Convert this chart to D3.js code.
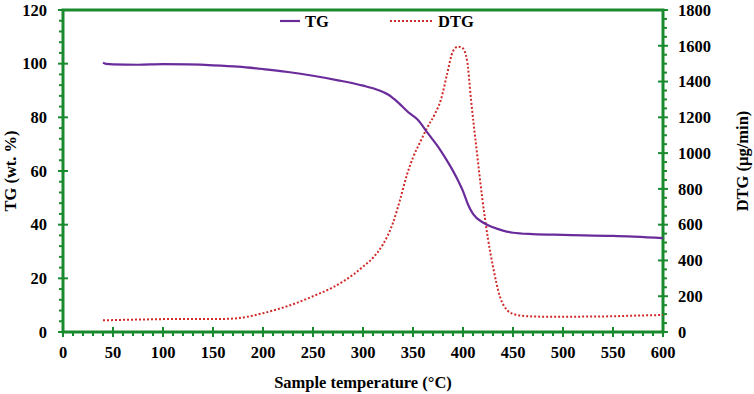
<!DOCTYPE html>
<html>
<head>
<meta charset="utf-8">
<script src="https://cdn.jsdelivr.net/npm/d3@7"></script>
<style>
  body { margin: 0; background: #fff; }
  text { font-family: "Liberation Serif", "Times New Roman", serif; font-weight: bold; }
</style>
</head>
<body>
<div id="chart"></div>
<script>
// TG curve (wt. %) vs temperature
const tgTemp = [40, 43, 50, 75, 100, 125, 150, 175, 200, 225, 250, 275, 300, 315, 325, 335, 345, 355, 365, 377, 387, 395, 400, 405, 410, 420, 430, 440, 450, 470, 500, 550, 600];
const tgValue = [100.4, 99.9, 99.7, 99.6, 99.8, 99.7, 99.4, 98.9, 98.0, 96.9, 95.5, 93.8, 91.8, 90.2, 88.5, 85.6, 82, 79, 74, 68, 62, 56.5, 52.5, 47.5, 44, 40.8, 39, 37.8, 37, 36.5, 36.2, 35.8, 35.0];

// DTG curve (µg/min) vs temperature
const dtgTemp = [40, 60, 80, 100, 120, 140, 160, 172, 185, 200, 215, 230, 250, 270, 290, 300, 310, 320, 330, 337, 344, 350, 357, 364, 372, 378, 384, 390, 395, 399, 404, 408, 414, 419, 425, 430, 437, 444, 452, 465, 490, 520, 550, 575, 600];
const dtgValue = [65, 68, 70, 72, 73, 72, 73, 76, 86, 105, 128, 155, 200, 250, 320, 365, 415, 490, 610, 738, 880, 975, 1060, 1140, 1220, 1300, 1440, 1570, 1595, 1590, 1520, 1300, 1000, 760, 520, 365, 197, 123, 98, 88, 85, 86, 88, 92, 95];

const xTicks = [0, 50, 100, 150, 200, 250, 300, 350, 400, 450, 500, 550, 600];
const tgTicks = [0, 20, 40, 60, 80, 100, 120];
const dtgTicks = [0, 200, 400, 600, 800, 1000, 1200, 1400, 1600, 1800];

const W = 754, H = 394;
const margin = { top: 10, right: 91, bottom: 62, left: 63 };
const width = W - margin.left - margin.right,
      height = H - margin.top - margin.bottom;

const green = "#1a8a2e";
const purple = "#6a2c9a";
const red = "#d02a2a";
const fs = "16.5px";

const svg = d3.select("#chart").append("svg")
    .attr("width", W).attr("height", H);
const g = svg.append("g").attr("transform", `translate(${margin.left},${margin.top})`);

const x = d3.scaleLinear().domain([0, 600]).range([0, width]);
const yL = d3.scaleLinear().domain([0, 120]).range([height, 0]);
const yR = d3.scaleLinear().domain([0, 1800]).range([height, 0]);

// minor ticks
const minorX = d3.range(0, 601, 10).filter(v => v % 50 !== 0);
const minorL = d3.range(0, 121, 4).filter(v => v % 20 !== 0);
const minorR = d3.range(0, 1801, 50).filter(v => v % 200 !== 0);

const ticks = g.append("g").attr("stroke", green).attr("stroke-width", 2);
ticks.selectAll(".mx").data(minorX).enter().append("line")
    .attr("x1", d => x(d)).attr("x2", d => x(d)).attr("y1", height).attr("y2", height + 4);
ticks.selectAll(".Mx").data(xTicks).enter().append("line")
    .attr("x1", d => x(d)).attr("x2", d => x(d)).attr("y1", height - 5).attr("y2", height + 5);
ticks.selectAll(".ml").data(minorL).enter().append("line")
    .attr("y1", d => yL(d)).attr("y2", d => yL(d)).attr("x1", -4).attr("x2", 0);
ticks.selectAll(".Ml").data(tgTicks).enter().append("line")
    .attr("y1", d => yL(d)).attr("y2", d => yL(d)).attr("x1", -5).attr("x2", 5);
ticks.selectAll(".mr").data(minorR).enter().append("line")
    .attr("y1", d => yR(d)).attr("y2", d => yR(d)).attr("x1", width).attr("x2", width + 4);
ticks.selectAll(".Mr").data(dtgTicks).enter().append("line")
    .attr("y1", d => yR(d)).attr("y2", d => yR(d)).attr("x1", width - 5).attr("x2", width + 5);

// frame
g.append("rect").attr("width", width).attr("height", height)
    .attr("fill", "none").attr("stroke", green).attr("stroke-width", 3);

// tick labels
g.selectAll(".xl").data(xTicks).enter().append("text")
    .attr("x", d => x(d)).attr("y", height + 26)
    .attr("text-anchor", "middle").style("font-size", fs).text(d => d);
g.selectAll(".ll").data(tgTicks).enter().append("text")
    .attr("x", -16).attr("y", d => yL(d)).attr("dy", "0.35em")
    .attr("text-anchor", "end").style("font-size", fs).text(d => d);
g.selectAll(".rl").data(dtgTicks).enter().append("text")
    .attr("x", width + 15).attr("y", d => yR(d)).attr("dy", "0.35em")
    .attr("text-anchor", "start").style("font-size", fs).text(d => d);

// axis titles
g.append("text").attr("x", width / 2).attr("y", height + 56)
    .attr("text-anchor", "middle").style("font-size", fs).text("Sample temperature (°C)");
g.append("text").attr("transform", `translate(${-47},${height / 2}) rotate(-90)`)
    .attr("text-anchor", "middle").style("font-size", fs).text("TG (wt. %)");
g.append("text").attr("transform", `translate(${width + 85},${height / 2 - 10}) rotate(-90)`)
    .attr("text-anchor", "middle").style("font-size", fs).text("DTG (µg/min)");

// lines
const tgLine = d3.line().curve(d3.curveMonotoneX)
    .x((d, i) => x(tgTemp[i])).y(d => yL(d));
const dtgLine = d3.line().curve(d3.curveMonotoneX)
    .x((d, i) => x(dtgTemp[i])).y(d => yR(d));

g.append("path").attr("d", dtgLine(dtgValue))
    .attr("fill", "none").attr("stroke", red).attr("stroke-width", 2)
    .attr("stroke-dasharray", "2,2");
g.append("path").attr("d", tgLine(tgValue))
    .attr("fill", "none").attr("stroke", purple).attr("stroke-width", 2.2);

// legend
const leg = svg.append("g");
leg.append("line").attr("x1", 280).attr("x2", 300).attr("y1", 21).attr("y2", 21)
    .attr("stroke", purple).attr("stroke-width", 2.2);
leg.append("text").attr("x", 305).attr("y", 27).style("font-size", fs).text("TG");
leg.append("line").attr("x1", 390).attr("x2", 433).attr("y1", 21).attr("y2", 21)
    .attr("stroke", red).attr("stroke-width", 2).attr("stroke-dasharray", "2,2");
leg.append("text").attr("x", 438).attr("y", 27).style("font-size", fs).text("DTG");
</script>
</body>
</html>
